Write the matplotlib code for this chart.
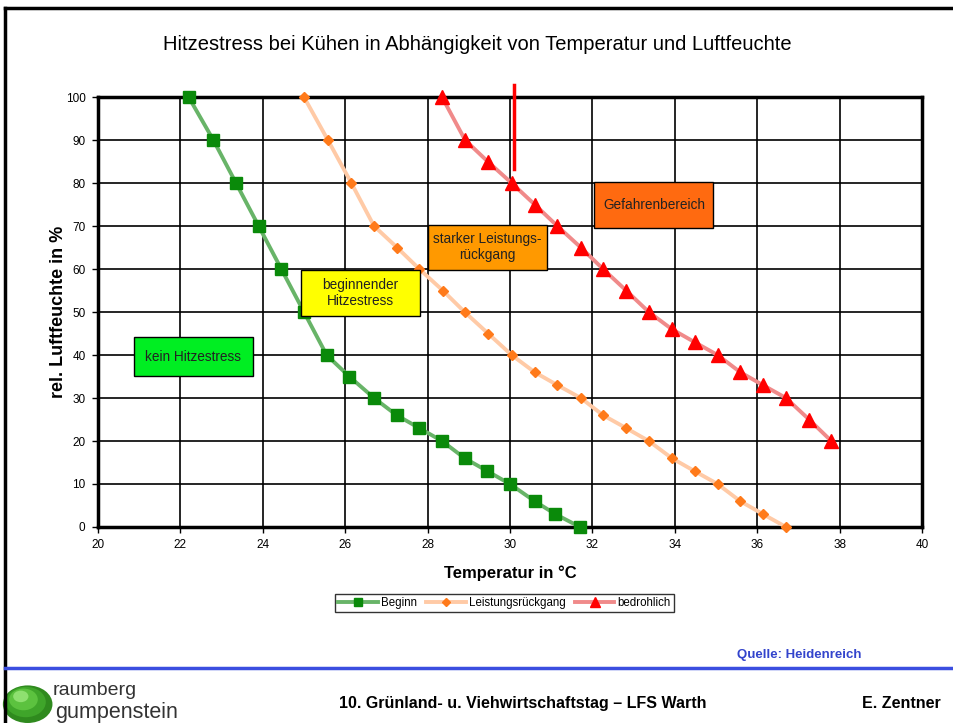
import matplotlib
matplotlib.use("Agg")
import matplotlib.pyplot as plt
from matplotlib.patches import Rectangle, Circle
from matplotlib.lines import Line2D

plt.rcParams['font.family'] = ['Liberation Sans', 'DejaVu Sans']

# Beginn (green squares)
beginn_t = [22.2, 22.8, 23.35, 23.9, 24.45, 25.0, 25.55, 26.1, 26.7, 27.25,
            27.8, 28.35, 28.9, 29.45, 30.0, 30.6, 31.1, 31.7]
beginn_rh = [100, 90, 80, 70, 60, 50, 40, 35, 30, 26, 23, 20, 16, 13, 10, 6, 3, 0]

# Leistungsrückgang (orange diamonds)
leist_t = [25.0, 25.58, 26.15, 26.7, 27.26, 27.8, 28.37, 28.9, 29.47, 30.04,
           30.6, 31.15, 31.72, 32.26, 32.82, 33.37, 33.93, 34.48, 35.04, 35.59,
           36.14, 36.7]
leist_rh = [100, 90, 80, 70, 65, 60, 55, 50, 45, 40, 36, 33, 30, 26, 23, 20,
            16, 13, 10, 6, 3, 0]

# bedrohlich (red triangles)
bedr_t = [28.35, 28.91, 29.46, 30.04, 30.6, 31.15, 31.72, 32.26, 32.82, 33.37,
          33.93, 34.48, 35.04, 35.59, 36.14, 36.7, 37.26, 37.8]
bedr_rh = [100, 90, 85, 80, 75, 70, 65, 60, 55, 50, 46, 43, 40, 36, 33, 30, 25, 20]

xticks = list(range(20, 41, 2))
yticks = list(range(0, 101, 10))

# zone labels: (text, x0, y0, width, height, colour)
zones = [
    ("kein Hitzestress", 20.87, 35.1, 2.89, 9.1, "#00ee22"),
    ("beginnender\nHitzestress", 24.93, 49.1, 2.89, 10.7, "#ffff00"),
    ("starker Leistungs-\nrückgang", 28.0, 59.8, 2.89, 10.5, "#ff9900"),
    ("Gefahrenbereich", 32.05, 69.5, 2.89, 10.7, "#ff6a10"),
]

fig = plt.figure(figsize=(9.54, 7.23), dpi=100)
ax = fig.add_axes([0.1027, 0.2711, 0.8637, 0.5947])

ax.plot(beginn_t, beginn_rh, color="#68b468", lw=2.8, marker="s", ms=8.5,
        mfc="#0a8a0a", mec="#0a8a0a", label="Beginn", zorder=3, clip_on=False)
ax.plot(leist_t, leist_rh, color="#ffcaa6", lw=2.8, marker="D", ms=5.5,
        mfc="#ff7a1a", mec="#ff7a1a", label="Leistungsrückgang", zorder=3,
        clip_on=False)
ax.plot(bedr_t, bedr_rh, color="#f08a8a", lw=2.8, marker="^", ms=10,
        mfc="#ff0000", mec="#ff0000", label="bedrohlich", zorder=3, clip_on=False)

# red marker line
ax.plot([30.11, 30.11], [83.2, 102.8], color="#ff0000", lw=2.5, clip_on=False, zorder=4)

for txt, x0, y0, w, h, c in zones:
    ax.add_patch(Rectangle((x0, y0), w, h, facecolor=c, edgecolor="black",
                           lw=1.0, zorder=5))
    ax.text(x0 + w / 2, y0 + h / 2, txt, ha="center", va="center",
            fontsize=9.8, color="#222222", zorder=6, linespacing=1.15)

ax.set_xlim(20, 40)
ax.set_ylim(0, 100)
ax.set_xticks(xticks)
ax.set_yticks(yticks)
ax.tick_params(labelsize=8.5, length=4, width=1, color="black", pad=5)
ax.grid(True, color="black", lw=1.2)
ax.set_axisbelow(True)
for s in ax.spines.values():
    s.set_linewidth(2.5)

ax.set_xlabel("Temperatur in °C", fontsize=12, fontweight="bold", labelpad=10)
ax.set_ylabel("rel. Luftfeuchte in %", fontsize=13, fontweight="bold", labelpad=-1)

leg = fig.legend(loc="center", bbox_to_anchor=(0.529, 0.166), ncol=3,
                 fontsize=8.3, frameon=True, fancybox=False, edgecolor="black",
                 handlelength=3.4, handletextpad=0.3, columnspacing=0.8,
                 borderpad=0.3, markerscale=0.7)
leg.get_frame().set_linewidth(1.0)

fig.text(0.5, 0.939, "Hitzestress bei Kühen in Abhängigkeit von Temperatur und Luftfeuchte",
         ha="center", va="center", fontsize=14.5)

# slide frame
fig.add_artist(Line2D([0.005, 1.0], [0.989, 0.989], color="black", lw=2.5))
fig.add_artist(Line2D([0.005, 0.005], [0.0, 0.989], color="black", lw=2.5))

# footer
fig.text(0.838, 0.094, "Quelle: Heidenreich", ha="center", va="center",
         fontsize=9.5, fontweight="bold", color="#3344cc")
fig.add_artist(Line2D([0.005, 1.0], [0.076, 0.076], color="#3b4ee0", lw=2.5))
fig.text(0.548, 0.027, "10. Grünland- u. Viehwirtschaftstag – LFS Warth",
         ha="center", va="center", fontsize=11.5, fontweight="bold")
fig.text(0.945, 0.027, "E. Zentner", ha="center", va="center",
         fontsize=11.5, fontweight="bold")

# logo
for r, c in [(0.026, "#2f8a1e"), (0.021, "#3fa52a"), (0.015, "#5cc23f"), (0.008, "#8ee070")]:
    fig.add_artist(Circle((0.029 - (0.026 - r) * 0.4, 0.026 + (0.026 - r) * 0.6), r,
                          transform=fig.transFigure, facecolor=c, edgecolor="none"))
fig.text(0.055, 0.045, "raumberg", ha="left", va="center", fontsize=14,
         color="#333333")
fig.text(0.058, 0.014, "gumpenstein", ha="left", va="center", fontsize=15.5,
         color="#333333")

fig.savefig("out.png", dpi=100)
